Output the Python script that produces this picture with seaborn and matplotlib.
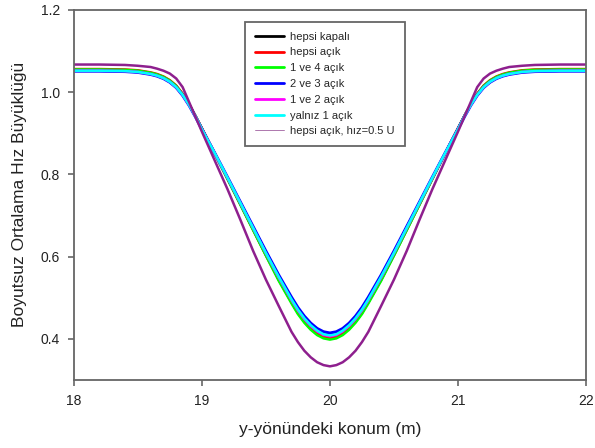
import numpy as np
import pandas as pd
import seaborn as sns
import matplotlib.pyplot as plt

# konum (m) - sol yarı okunan değerler, sağ yarı 20 m etrafında simetrik
x_sol = [18.0, 18.2, 18.4, 18.5, 18.6, 18.65, 18.7, 18.75, 18.8, 18.85, 18.9, 18.95,
         19.0, 19.1, 19.2, 19.3, 19.4, 19.5, 19.6, 19.7, 19.75, 19.8, 19.85, 19.9,
         19.95, 20.0]

hepsi_kapali = [1.054, 1.054, 1.053, 1.051, 1.046, 1.042, 1.036, 1.027, 1.014, 0.995, 0.970, 0.942,
                0.912, 0.851, 0.790, 0.728, 0.666, 0.604, 0.544, 0.489, 0.463, 0.442, 0.425, 0.412,
                0.404, 0.401]
hepsi_acik = [1.056, 1.056, 1.055, 1.053, 1.048, 1.044, 1.038, 1.029, 1.016, 0.996, 0.971, 0.942,
              0.912, 0.851, 0.790, 0.728, 0.666, 0.604, 0.544, 0.489, 0.463, 0.442, 0.425, 0.412,
              0.404, 0.401]
bir_ve_dort = [1.055, 1.055, 1.054, 1.052, 1.047, 1.043, 1.037, 1.028, 1.015, 0.995, 0.970, 0.942,
               0.911, 0.850, 0.788, 0.726, 0.664, 0.602, 0.541, 0.486, 0.460, 0.439, 0.422, 0.409,
               0.401, 0.398]
iki_ve_uc = [1.051, 1.051, 1.050, 1.048, 1.043, 1.039, 1.033, 1.024, 1.011, 0.992, 0.968, 0.940,
             0.910, 0.852, 0.793, 0.733, 0.673, 0.613, 0.555, 0.501, 0.476, 0.455, 0.438, 0.425,
             0.417, 0.414]
bir_ve_iki = [1.052, 1.052, 1.051, 1.049, 1.044, 1.040, 1.034, 1.025, 1.012, 0.993, 0.969, 0.941,
              0.910, 0.851, 0.791, 0.730, 0.669, 0.608, 0.549, 0.494, 0.469, 0.448, 0.431, 0.418,
              0.409, 0.406]
yalniz_bir = [1.052, 1.052, 1.051, 1.049, 1.044, 1.040, 1.034, 1.025, 1.012, 0.993, 0.969, 0.941,
              0.910, 0.852, 0.792, 0.731, 0.670, 0.609, 0.551, 0.496, 0.471, 0.450, 0.433, 0.420,
              0.411, 0.408]
yari_hiz = [1.067, 1.067, 1.066, 1.064, 1.061, 1.057, 1.052, 1.045, 1.033, 1.012, 0.976, 0.940,
            0.904, 0.834, 0.764, 0.690, 0.614, 0.544, 0.480, 0.417, 0.392, 0.371, 0.355, 0.343,
            0.336, 0.333]

etiketler = ['hepsi kapalı', 'hepsi açık', '1 ve 4 açık', '2 ve 3 açık',
             '1 ve 2 açık', 'yalnız 1 açık', 'hepsi açık, hız=0.5 U']
renkler = ['black', 'red', '#00ff00', '#0000ff', '#ff00ff', '#00ffff', '#8e1f8e']
seriler = [hepsi_kapali, hepsi_acik, bir_ve_dort, iki_ve_uc, bir_ve_iki, yalniz_bir, yari_hiz]


def ayna(v):
    # 20 m etrafında simetrik profil
    return list(v) + list(v[-2::-1])


x = list(x_sol) + [40.0 - xi for xi in x_sol[-2::-1]]

sns.set_style('ticks')
plt.rcParams['font.family'] = ['Liberation Sans', 'DejaVu Sans']

fig, ax = plt.subplots(figsize=(5.95, 4.48), dpi=100)
fig.subplots_adjust(left=0.124, right=0.985, top=0.978, bottom=0.152)

for seri, etiket, renk in zip(seriler, etiketler, renkler):
    df = pd.DataFrame({'konum': x, 'hiz': ayna(seri)})
    lw = 1.8 if renk != '#0000ff' else 2.2
    sns.lineplot(data=df, x='konum', y='hiz', color=renk, lw=lw, label=etiket,
                 ax=ax, sort=False)

ax.set_xlim(18, 22)
ax.set_ylim(0.3, 1.2)
ax.set_xticks([18, 19, 20, 21, 22])
ax.set_yticks([0.4, 0.6, 0.8, 1.0, 1.2])
ax.yaxis.set_major_formatter(plt.FormatStrFormatter('%.1f'))

for sp in ax.spines.values():
    sp.set_visible(True)
    sp.set_color('#666666')
    sp.set_linewidth(1.3)
ax.tick_params(direction='out', length=4, width=1.2, color='#666666',
               labelsize=10, labelcolor='#222222', pad=6)

ax.set_xlabel('y-yönündeki konum (m)', fontsize=12.5, color='#222222', labelpad=10)
ax.set_ylabel('Boyutsuz Ortalama Hız Büyüklüğü', fontsize=12.5, color='#222222', labelpad=10)

leg = ax.legend(loc='upper left', bbox_to_anchor=(0.334, 0.968), borderaxespad=0,
                fontsize=8, frameon=True, fancybox=False, labelspacing=0.52,
                handlelength=2.6, handletextpad=0.6, borderpad=0.9)
leg.get_frame().set_edgecolor('#666666')
leg.get_frame().set_linewidth(1.3)
leg.get_frame().set_alpha(1)
for i, ln in enumerate(leg.get_lines()):
    ln.set_linewidth(0.6 if i == 6 else 2.0)
leg.get_lines()[6].set_color('#a060a0')

plt.savefig('out.png', dpi=100)
